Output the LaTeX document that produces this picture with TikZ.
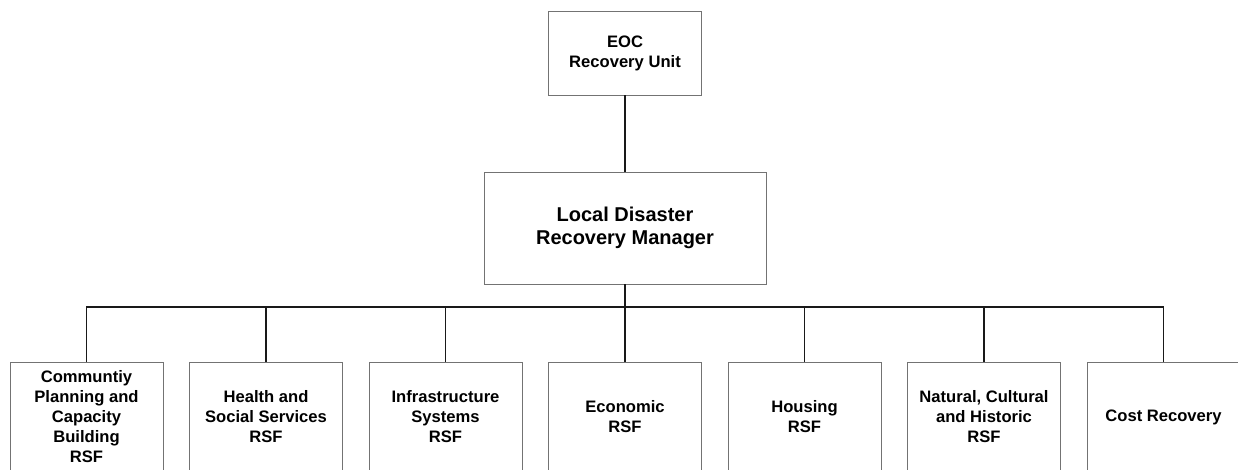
\documentclass[tikz,border=0pt]{standalone}
\usepackage{fontspec}
\setmainfont{Liberation Sans}
\begin{document}
\begin{tikzpicture}[x=1pt,y=-1pt,
  box/.style={draw=black!55,line width=0.9pt,fill=white,inner sep=0pt,align=center,font=\bfseries\fontsize{16.6}{20}\selectfont},
  rsf/.style={box,minimum width=153pt,minimum height=110pt},
  conn/.style={draw=black!90,line width=1.4pt}]
\useasboundingbox (0,0) rectangle (1238,470);
\node[box,minimum width=153.5pt,minimum height=84pt] (eoc) at (625,53) {EOC\\Recovery Unit};
\node[box,minimum width=282pt,minimum height=112pt,font=\bfseries\fontsize{20}{23.3}\selectfont] (mgr) at (625,228) {Local Disaster\\Recovery Manager};
\coordinate (bus) at (625,307);
\node[rsf] (r1) at (86.5,417) {Communtiy\\Planning and\\Capacity\\Building\\RSF};
\node[rsf] (r2) at (266,417) {Health and\\Social Services\\RSF};
\node[rsf] (r3) at (445.5,417) {Infrastructure\\Systems\\RSF};
\node[rsf] (r4) at (625,417) {Economic\\RSF};
\node[rsf] (r5) at (804.5,417) {Housing\\RSF};
\node[rsf] (r6) at (984,417) {Natural, Cultural\\and Historic\\RSF};
\node[rsf] (r7) at (1163.5,417) {Cost Recovery};
\draw[conn] (eoc.south) -- (mgr.north);
\draw[conn] (mgr.south) -- (bus);
\foreach \n in {r1,r2,r3,r4,r5,r6,r7} {\draw[conn] (bus) -| (\n.north);}
\end{tikzpicture}
\end{document}
